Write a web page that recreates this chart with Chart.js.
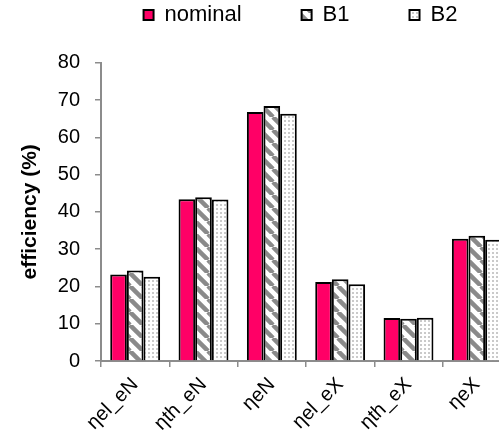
<!DOCTYPE html>
<html>
<head>
<meta charset="utf-8">
<script src="https://cdn.jsdelivr.net/npm/chart.js@4"></script>
<style>
  html, body { margin: 0; padding: 0; background: #fff; overflow: hidden; }
  #wrap { width: 594px; height: 438px; }
</style>
</head>
<body>
<div id="wrap"><canvas id="chart" width="594" height="438"></canvas></div>
<script>
const categories = ["ηel_eN", "ηth_eN", "ηeN", "ηel_eX", "ηth_eX", "ηeX"];
const nominal = [23.2, 43.4, 66.8, 21.2, 11.5, 32.8];
const b1 = [24.3, 43.9, 68.4, 21.9, 11.3, 33.6];
const b2 = [22.6, 43.3, 66.3, 20.6, 11.6, 32.5];
const yTicks = [0, 10, 20, 30, 40, 50, 60, 70, 80];

function stripePattern() {
  const c = document.createElement("canvas");
  c.width = 13;
  c.height = 13;
  const g = c.getContext("2d");
  g.fillStyle = "#fff";
  g.fillRect(0, 0, 13, 13);
  g.strokeStyle = "#8a8a8a";
  g.lineWidth = 4.5;
  // "\" stripes, repeated so the tile wraps cleanly
  [-13, 0, 13].forEach((o) => {
    g.beginPath();
    g.moveTo(o, 0);
    g.lineTo(o + 13, 13);
    g.stroke();
  });
  return g.createPattern(c, "repeat");
}

function dotPattern() {
  const c = document.createElement("canvas");
  c.width = 4;
  c.height = 4;
  const g = c.getContext("2d");
  g.fillStyle = "#fff";
  g.fillRect(0, 0, 4, 4);
  g.fillStyle = "#cacaca";
  g.fillRect(0, 0, 2, 2);
  return g.createPattern(c, "repeat");
}

// legend spacing is wide in the original, so pin the legend's height
// and nudge it right after layout
const legendFix = {
  id: "legendFix",
  afterInit(chart) {
    const lg = chart.legend;
    const fit = lg.fit;
    lg.fit = function () {
      fit.call(this);
      this.height = 118.7;
    };
  },
  afterLayout(chart) {
    chart.legend.left += 45;
    chart.legend.right += 45;
  },
};

const axisColor = "#8c8c8c";
const family = "'Liberation Sans', Arial, sans-serif";
const tickFont = { family: family, size: 20 };

new Chart(document.getElementById("chart"), {
  type: "bar",
  data: {
    labels: categories,
    datasets: [
      { label: "nominal", data: nominal, backgroundColor: "#ff0066" },
      { label: "B1", data: b1, backgroundColor: stripePattern() },
      { label: "B2", data: b2, backgroundColor: dotPattern() },
    ].map((d) => Object.assign(d, {
      borderColor: "#000",
      borderWidth: 2,
      categoryPercentage: 0.73,
      barPercentage: 1,
    })),
  },
  plugins: [legendFix],
  options: {
    responsive: false,
    animation: false,
    layout: { padding: { top: -56, right: 83, left: 0, bottom: 0 } },
    plugins: {
      tooltip: { enabled: false },
      legend: {
        position: "top",
        labels: {
          color: "#000",
          font: { family: family, size: 22 },
          boxWidth: 10,
          boxHeight: 10,
          padding: 60,
        },
      },
    },
    scales: {
      x: {
        afterFit: (s) => { s.height = 77; },
        grid: { display: true, drawOnChartArea: false, color: axisColor, lineWidth: 1.5, tickLength: 6 },
        border: { color: axisColor, width: 2 },
        ticks: { color: "#000", font: tickFont, maxRotation: 45, minRotation: 45, padding: 6 },
      },
      y: {
        min: 0,
        max: 80,
        afterFit: (s) => { s.width = 101; },
        afterBuildTicks: (s) => { s.ticks = yTicks.map((v) => ({ value: v })); },
        grid: { display: true, drawOnChartArea: false, color: axisColor, lineWidth: 1.5, tickLength: 6 },
        border: { color: axisColor, width: 2 },
        ticks: { color: "#000", font: tickFont, padding: 15 },
        title: {
          display: true,
          text: "efficiency (%)",
          color: "#000",
          font: { family: family, size: 21, weight: "bold" },
          padding: { top: 18, bottom: 0 },
        },
      },
    },
  },
});
</script>
</body>
</html>
